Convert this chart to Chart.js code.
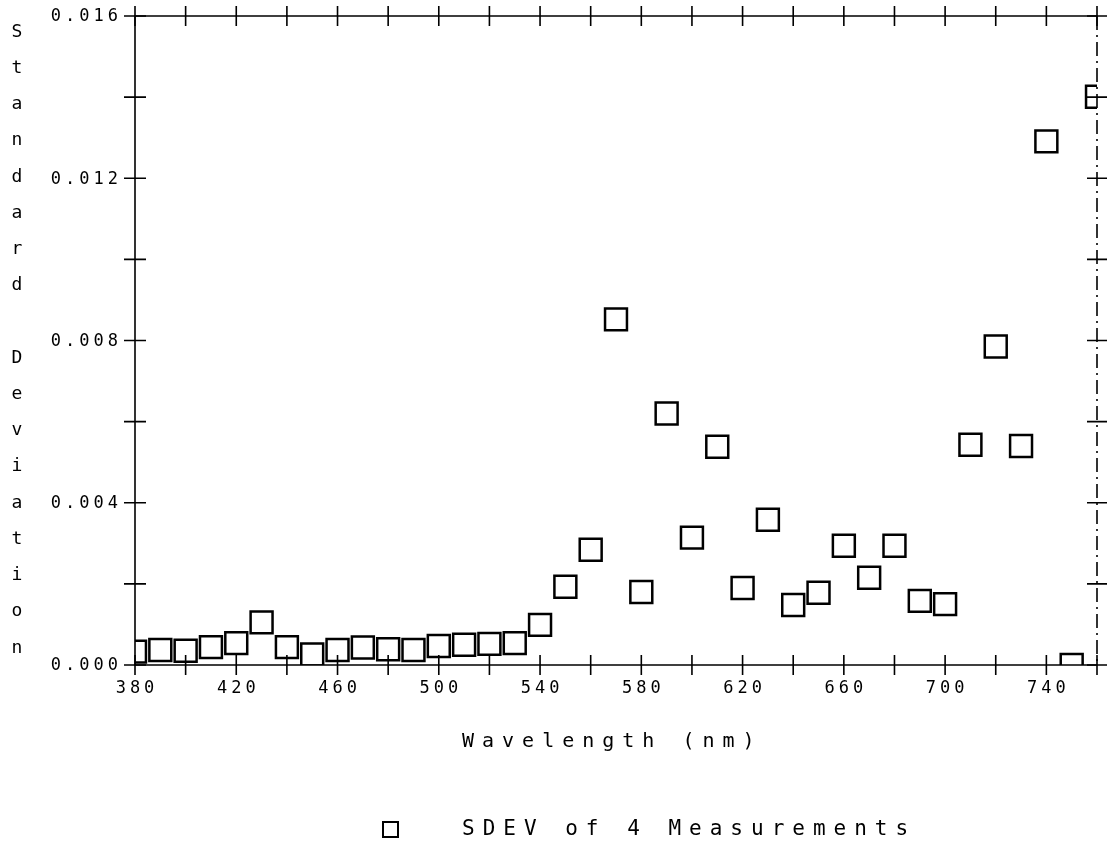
<!DOCTYPE html>
<html>
<head>
<meta charset="utf-8">
<script src="https://cdn.jsdelivr.net/npm/chart.js@4/dist/chart.umd.min.js"></script>
<style>
  html, body { margin: 0; padding: 0; background: #fff; }
  #wrap { width: 1109px; height: 848px; }
</style>
</head>
<body>
<div id="wrap"><canvas id="sdevChart" width="1109" height="848"></canvas></div>
<script>
const wavelengths = [380, 390, 400, 410, 420, 430, 440, 450, 460, 470,
                     480, 490, 500, 510, 520, 530, 540, 550, 560, 570,
                     580, 590, 600, 610, 620, 630, 640, 650, 660, 670,
                     680, 690, 700, 710, 720, 730, 740, 750, 760];
const sdevValues = [0.00033, 0.00037, 0.00035, 0.00044, 0.00054, 0.00105, 0.00044, 0.00026, 0.00037, 0.00043,
                    0.00039, 0.00037, 0.00047, 0.00050, 0.00052, 0.00054, 0.00099, 0.00193, 0.00284, 0.00852,
                    0.00180, 0.00620, 0.00314, 0.00538, 0.00190, 0.00358, 0.00148, 0.00178, 0.00294, 0.00215,
                    0.00294, 0.00158, 0.00150, 0.00543, 0.00785, 0.00540, 0.01291, 0.00000, 0.01401];
const xTickLabels = [380, 420, 460, 500, 540, 580, 620, 660, 700, 740];
const yTickLabels = [0, 0.004, 0.008, 0.012, 0.016];
const xTitle = 'Wavelength (nm)';
const yTitle = 'Standard Deviation';
const seriesLabel = 'SDEV of 4 Measurements';

const FONT = '"DejaVu Sans Mono", monospace';

const xLabel = v => xTickLabels.includes(v) ? String(v) : '';
const yLabel = v => yTickLabels.some(l => Math.abs(l - v) < 1e-9) ? v.toFixed(3) : '';

// plotter style frame: solid left/top/bottom, dash-dot right, cross ticks, spaced text
const plotterFrame = {
    id: 'plotterFrame',
    afterDatasetsDraw(chart) {
        const { ctx, chartArea: a, scales } = chart;
        const x = scales.x, y = scales.y;
        ctx.save();
        ctx.strokeStyle = '#000';
        ctx.fillStyle = '#000';
        ctx.lineWidth = 1.6;

        ctx.beginPath();
        ctx.moveTo(a.right, a.top);
        ctx.lineTo(a.left, a.top);
        ctx.lineTo(a.left, a.bottom);
        ctx.lineTo(a.right, a.bottom);
        ctx.stroke();

        ctx.setLineDash([14, 5, 2, 5]);
        ctx.beginPath();
        ctx.moveTo(a.right, a.top);
        ctx.lineTo(a.right, a.bottom);
        ctx.stroke();
        ctx.setLineDash([]);

        ctx.beginPath();
        x.ticks.forEach(t => {
            const px = x.getPixelForValue(t.value);
            ctx.moveTo(px, a.bottom - 10); ctx.lineTo(px, a.bottom + 10);
            ctx.moveTo(px, a.top - 10); ctx.lineTo(px, a.top + 10);
        });
        y.ticks.forEach(t => {
            const py = y.getPixelForValue(t.value);
            ctx.moveTo(a.left - 11, py); ctx.lineTo(a.left + 11, py);
            ctx.moveTo(a.right - 10, py); ctx.lineTo(a.right + 10, py);
        });
        ctx.stroke();

        // tick labels
        const sp = 4;
        ctx.font = '17px ' + FONT;
        ctx.letterSpacing = sp + 'px';
        ctx.textBaseline = 'middle';
        ctx.textAlign = 'center';
        x.ticks.forEach(t => {
            const s = xLabel(t.value);
            if (s) ctx.fillText(s, x.getPixelForValue(t.value) + sp / 2, a.bottom + 24);
        });
        ctx.textAlign = 'right';
        y.ticks.forEach(t => {
            const s = yLabel(t.value);
            if (s) ctx.fillText(s, a.left - 17 + sp, y.getPixelForValue(t.value) + 1);
        });

        // stacked y title
        ctx.letterSpacing = '0px';
        ctx.font = '18px ' + FONT;
        ctx.textAlign = 'center';
        const chars = yTitle.split('');
        const y0 = a.top + 16, y1 = a.bottom - 17;
        const step = (y1 - y0) / (chars.length - 1);
        chars.forEach((c, i) => ctx.fillText(c, 17, y0 + i * step));

        // x title
        ctx.font = '20px ' + FONT;
        ctx.letterSpacing = '8px';
        ctx.textAlign = 'left';
        ctx.fillText(xTitle, 462, 742);

        // legend
        const ds = chart.data.datasets[0];
        ctx.lineWidth = 2;
        ctx.strokeRect(383, 822, 15, 15);
        ctx.font = '21px ' + FONT;
        ctx.letterSpacing = '8px';
        ctx.fillText(ds.label, 462, 830);
        ctx.restore();
    }
};

const chart = new Chart(document.getElementById('sdevChart'), {
    type: 'scatter',
    data: {
        datasets: [{
            label: seriesLabel,
            data: wavelengths.map((w, i) => ({ x: w, y: sdevValues[i] })),
            pointStyle: 'rect',
            pointRadius: 15.5,
            pointHoverRadius: 15.5,
            borderColor: '#000',
            backgroundColor: 'rgba(0, 0, 0, 0)',
            borderWidth: 2.5,
            clip: 0
        }]
    },
    options: {
        responsive: false,
        animation: false,
        layout: { autoPadding: false, padding: { top: 16, right: 12, left: 0, bottom: 0 } },
        plugins: {
            legend: { display: false },
            tooltip: { enabled: false }
        },
        scales: {
            x: {
                type: 'linear',
                min: 380,
                max: 760,
                border: { display: false },
                grid: { display: false, drawTicks: false },
                afterFit: scale => { scale.height = 183; },
                ticks: { stepSize: 20, autoSkip: false, display: false, callback: xLabel }
            },
            y: {
                min: 0,
                max: 0.016,
                border: { display: false },
                grid: { display: false, drawTicks: false },
                afterFit: scale => { scale.width = 135; },
                ticks: { stepSize: 0.002, autoSkip: false, display: false, callback: yLabel }
            }
        }
    },
    plugins: [plotterFrame]
});
</script>
</body>
</html>
